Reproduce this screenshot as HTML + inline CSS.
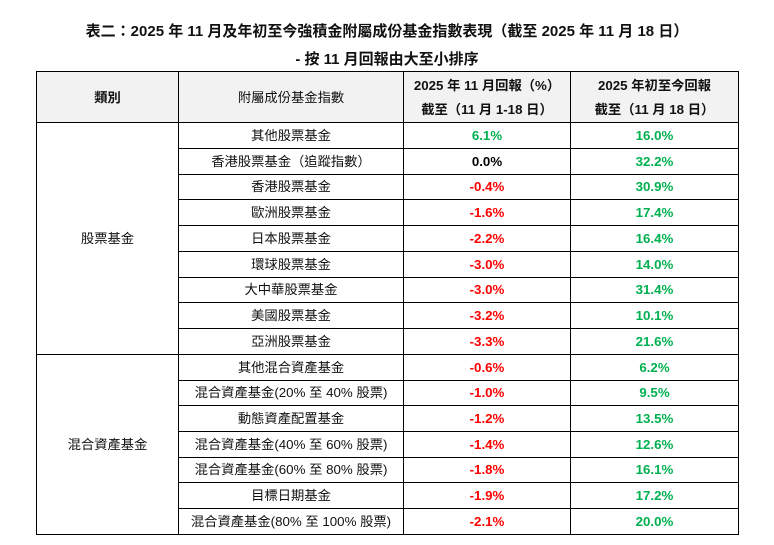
<!DOCTYPE html>
<html>
<head>
<meta charset="utf-8">
<style>
  html,body{margin:0;padding:0;background:#fff;}
  body{width:774px;height:545px;position:relative;overflow:hidden;
       font-family:"Liberation Sans","Noto Sans CJK TC","Noto Sans CJK SC",sans-serif;color:#111;}
  .t{position:absolute;left:0;width:774px;text-align:center;font-weight:bold;font-size:15px;line-height:20px;white-space:nowrap;}
  .hbg{position:absolute;left:36px;top:71px;width:702px;height:51px;background:#f2f2f2;}
  .h{position:absolute;height:1px;background:#000;}
  .v{position:absolute;width:1px;background:#000;}
  .c{position:absolute;display:flex;align-items:center;justify-content:center;font-size:13.3px;white-space:nowrap;line-height:16px;}
  .b{font-weight:bold;}
  .g{color:#00b050;font-weight:bold;}
  .r{color:#ff0000;font-weight:bold;}
  .k{color:#000;font-weight:bold;}
</style>
</head>
<body>
<div class="t" style="top:22px;">表二：2025 年 11 月及年初至今強積金附屬成份基金指數表現（截至 2025 年 11 月 18 日）</div>
<div class="t" style="top:50px;">- 按 11 月回報由大至小排序</div>

<div class="hbg"></div>

<!-- horizontal lines -->
<div class="h" style="left:36px;width:703px;top:71px;"></div>
<div class="h" style="left:36px;width:703px;top:122px;"></div>
<div class="h" style="left:178px;width:561px;top:148px;"></div>
<div class="h" style="left:178px;width:561px;top:174px;"></div>
<div class="h" style="left:178px;width:561px;top:199px;"></div>
<div class="h" style="left:178px;width:561px;top:225px;"></div>
<div class="h" style="left:178px;width:561px;top:251px;"></div>
<div class="h" style="left:178px;width:561px;top:277px;"></div>
<div class="h" style="left:178px;width:561px;top:302px;"></div>
<div class="h" style="left:178px;width:561px;top:328px;"></div>
<div class="h" style="left:36px;width:703px;top:354px;"></div>
<div class="h" style="left:178px;width:561px;top:380px;"></div>
<div class="h" style="left:178px;width:561px;top:405px;"></div>
<div class="h" style="left:178px;width:561px;top:431px;"></div>
<div class="h" style="left:178px;width:561px;top:457px;"></div>
<div class="h" style="left:178px;width:561px;top:482px;"></div>
<div class="h" style="left:178px;width:561px;top:508px;"></div>
<div class="h" style="left:36px;width:703px;top:534px;"></div>

<!-- vertical lines -->
<div class="v" style="left:36px;top:71px;height:464px;"></div>
<div class="v" style="left:178px;top:71px;height:464px;"></div>
<div class="v" style="left:403px;top:71px;height:464px;"></div>
<div class="v" style="left:570px;top:71px;height:464px;"></div>
<div class="v" style="left:738px;top:71px;height:464px;"></div>

<!-- header -->
<div class="c b" style="left:37px;width:141px;top:72px;height:51px;">類別</div>
<div class="c" style="left:179px;width:224px;top:72px;height:51px;">附屬成份基金指數</div>
<div class="c b" style="left:404px;width:166px;top:76px;height:20px;">2025 年 11 月回報（%）</div>
<div class="c b" style="left:404px;width:166px;top:100px;height:20px;">截至（11 月 1-18 日）</div>
<div class="c b" style="left:571px;width:167px;top:76px;height:20px;">2025 年初至今回報</div>
<div class="c b" style="left:571px;width:167px;top:100px;height:20px;">截至（11 月 18 日）</div>

<!-- group labels -->
<div class="c" style="left:37px;width:141px;top:123px;height:231px;">股票基金</div>
<div class="c" style="left:37px;width:141px;top:355px;height:179px;">混合資產基金</div>

<!-- rows -->
<div class="c" style="left:179px;width:224px;top:123px;height:25px;">其他股票基金</div>
<div class="c g" style="left:404px;width:166px;top:123px;height:25px;">6.1%</div>
<div class="c g" style="left:571px;width:167px;top:123px;height:25px;">16.0%</div>

<div class="c" style="left:179px;width:224px;top:149px;height:25px;">香港股票基金（追蹤指數）</div>
<div class="c k" style="left:404px;width:166px;top:149px;height:25px;">0.0%</div>
<div class="c g" style="left:571px;width:167px;top:149px;height:25px;">32.2%</div>

<div class="c" style="left:179px;width:224px;top:175px;height:24px;">香港股票基金</div>
<div class="c r" style="left:404px;width:166px;top:175px;height:24px;">-0.4%</div>
<div class="c g" style="left:571px;width:167px;top:175px;height:24px;">30.9%</div>

<div class="c" style="left:179px;width:224px;top:200px;height:25px;">歐洲股票基金</div>
<div class="c r" style="left:404px;width:166px;top:200px;height:25px;">-1.6%</div>
<div class="c g" style="left:571px;width:167px;top:200px;height:25px;">17.4%</div>

<div class="c" style="left:179px;width:224px;top:226px;height:25px;">日本股票基金</div>
<div class="c r" style="left:404px;width:166px;top:226px;height:25px;">-2.2%</div>
<div class="c g" style="left:571px;width:167px;top:226px;height:25px;">16.4%</div>

<div class="c" style="left:179px;width:224px;top:252px;height:25px;">環球股票基金</div>
<div class="c r" style="left:404px;width:166px;top:252px;height:25px;">-3.0%</div>
<div class="c g" style="left:571px;width:167px;top:252px;height:25px;">14.0%</div>

<div class="c" style="left:179px;width:224px;top:278px;height:24px;">大中華股票基金</div>
<div class="c r" style="left:404px;width:166px;top:278px;height:24px;">-3.0%</div>
<div class="c g" style="left:571px;width:167px;top:278px;height:24px;">31.4%</div>

<div class="c" style="left:179px;width:224px;top:303px;height:25px;">美國股票基金</div>
<div class="c r" style="left:404px;width:166px;top:303px;height:25px;">-3.2%</div>
<div class="c g" style="left:571px;width:167px;top:303px;height:25px;">10.1%</div>

<div class="c" style="left:179px;width:224px;top:329px;height:25px;">亞洲股票基金</div>
<div class="c r" style="left:404px;width:166px;top:329px;height:25px;">-3.3%</div>
<div class="c g" style="left:571px;width:167px;top:329px;height:25px;">21.6%</div>

<div class="c" style="left:179px;width:224px;top:355px;height:25px;">其他混合資產基金</div>
<div class="c r" style="left:404px;width:166px;top:355px;height:25px;">-0.6%</div>
<div class="c g" style="left:571px;width:167px;top:355px;height:25px;">6.2%</div>

<div class="c" style="left:179px;width:224px;top:381px;height:24px;">混合資產基金(20% 至 40% 股票)</div>
<div class="c r" style="left:404px;width:166px;top:381px;height:24px;">-1.0%</div>
<div class="c g" style="left:571px;width:167px;top:381px;height:24px;">9.5%</div>

<div class="c" style="left:179px;width:224px;top:406px;height:25px;">動態資產配置基金</div>
<div class="c r" style="left:404px;width:166px;top:406px;height:25px;">-1.2%</div>
<div class="c g" style="left:571px;width:167px;top:406px;height:25px;">13.5%</div>

<div class="c" style="left:179px;width:224px;top:432px;height:25px;">混合資產基金(40% 至 60% 股票)</div>
<div class="c r" style="left:404px;width:166px;top:432px;height:25px;">-1.4%</div>
<div class="c g" style="left:571px;width:167px;top:432px;height:25px;">12.6%</div>

<div class="c" style="left:179px;width:224px;top:458px;height:24px;">混合資產基金(60% 至 80% 股票)</div>
<div class="c r" style="left:404px;width:166px;top:458px;height:24px;">-1.8%</div>
<div class="c g" style="left:571px;width:167px;top:458px;height:24px;">16.1%</div>

<div class="c" style="left:179px;width:224px;top:483px;height:25px;">目標日期基金</div>
<div class="c r" style="left:404px;width:166px;top:483px;height:25px;">-1.9%</div>
<div class="c g" style="left:571px;width:167px;top:483px;height:25px;">17.2%</div>

<div class="c" style="left:179px;width:224px;top:509px;height:25px;">混合資產基金(80% 至 100% 股票)</div>
<div class="c r" style="left:404px;width:166px;top:509px;height:25px;">-2.1%</div>
<div class="c g" style="left:571px;width:167px;top:509px;height:25px;">20.0%</div>
</body>
</html>
